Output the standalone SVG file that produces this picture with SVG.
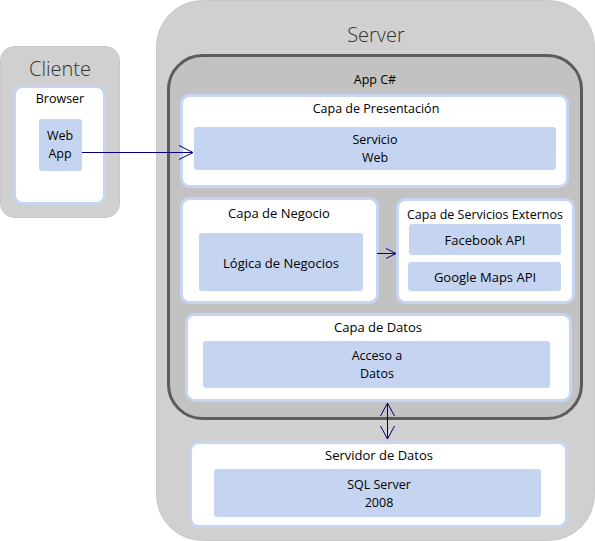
<svg xmlns="http://www.w3.org/2000/svg" width="595" height="541" viewBox="0 0 595 541">
<defs>
<style>
.outer{fill:#d0d0d0;stroke:#c8c8c8;stroke-width:1}
.app{fill:#c2c2c2;stroke:#5c5c5c;stroke-width:3}
.layer{fill:#ffffff;stroke:#c6d6f2;stroke-width:3}
.comp{fill:#c5d5f1;stroke:none}
text{font-family:"Open Sans","Noto Sans","DejaVu Sans",sans-serif;font-size:13px;fill:#000;text-anchor:middle}
.sm{font-size:12.5px}
.big{font-size:20px;fill:#333;font-weight:300}
.conn{stroke:#000080;stroke-width:1;fill:none}
.head{stroke:#000080;stroke-width:1;fill:none}
</style>
</defs>
<rect width="595" height="541" fill="#ffffff"/>
<g id="cliente">
<rect class="outer" x="0.5" y="46.5" width="119" height="171" rx="14"/>
<text class="big" x="60" y="76">Cliente</text>
<g id="browser">
<rect class="layer" x="14.5" y="86.5" width="90" height="117" rx="8"/>
<text class="sm" x="60" y="103">Browser</text>
</g>
<g id="webapp">
<rect class="comp" x="39" y="119" width="43" height="52" rx="3"/>
<text class="sm" x="60" y="140">Web</text>
<text class="sm" x="60" y="157.5">App</text>
</g>
</g>
<g id="server">
<rect class="outer" x="156.5" y="0.5" width="438" height="540" rx="46"/>
<text class="big" x="376" y="42">Server</text>
</g>
<g id="appcsharp">
<rect class="app" x="168.5" y="55.5" width="413" height="363" rx="34"/>
<text class="sm" x="375" y="84">App C#</text>
</g>
<g id="presentacion">
<rect class="layer" x="181.5" y="95.5" width="386" height="91" rx="8"/>
<text class="sm" x="376" y="113">Capa de Presentación</text>
<rect class="comp" x="194" y="127" width="362" height="43" rx="3"/>
<text class="sm" x="375" y="144">Servicio</text>
<text class="sm" x="375" y="161.5">Web</text>
</g>
<g id="negocio">
<rect class="layer" x="181.5" y="198.5" width="196" height="104" rx="8"/>
<text x="279" y="218">Capa de Negocio</text>
<rect class="comp" x="199" y="233" width="164" height="58" rx="3"/>
<text x="281" y="268">Lógica de Negocios</text>
</g>
<g id="externos">
<rect class="layer" x="397.5" y="199.5" width="176" height="103" rx="8"/>
<text class="sm" x="485" y="219">Capa de Servicios Externos</text>
<g id="facebook">
<rect class="comp" x="409" y="224" width="152" height="31" rx="3"/>
<text x="485" y="245">Facebook API</text>
</g>
<g id="googlemaps">
<rect class="comp" x="408" y="262" width="153" height="29" rx="3"/>
<text x="485" y="282">Google Maps API</text>
</g>
</g>
<g id="datos">
<rect class="layer" x="186.5" y="314.5" width="384" height="86" rx="8"/>
<text x="378" y="332">Capa de Datos</text>
<rect class="comp" x="203" y="341" width="347" height="47" rx="3"/>
<text class="sm" x="377" y="360">Acceso a</text>
<text class="sm" x="377" y="377.5">Datos</text>
</g>
<g id="servidordatos">
<rect class="layer" x="190.5" y="442.5" width="376" height="84" rx="8"/>
<text x="379" y="460">Servidor de Datos</text>
<rect class="comp" x="214" y="469" width="327" height="48" rx="3"/>
<text class="sm" x="379" y="489">SQL Server</text>
<text class="sm" x="379" y="506.5">2008</text>
</g>
<g id="connectors">
<line class="conn" x1="82" y1="152.5" x2="193" y2="152.5"/>
<polyline class="head" points="179,145.5 193,152.5 179,159.5"/>
<line class="conn" x1="377" y1="253.5" x2="396" y2="253.5"/>
<polyline class="head" points="386,248.5 396,253.5 386,258.5"/>
<line class="conn" x1="387.5" y1="403" x2="387.5" y2="439"/>
<polyline class="head" points="380.5,416 387.5,403 394.5,416"/>
<polyline class="head" points="380.5,426 387.5,439 394.5,426"/>
</g>
</svg>
